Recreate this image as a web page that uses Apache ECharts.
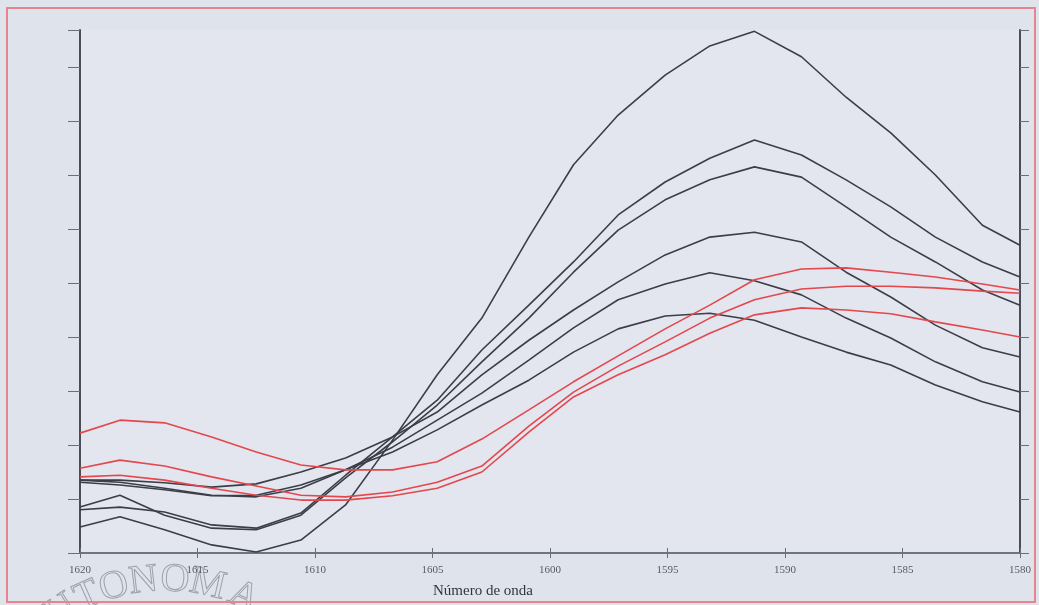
<!DOCTYPE html>
<html>
<head>
<meta charset="utf-8">
<script src="https://cdn.jsdelivr.net/npm/echarts@6/dist/echarts.min.js"></script>
<style>
  html, body { margin: 0; padding: 0; background: #dfe3ec; }
  #chart { width: 1039px; height: 605px; }
</style>
</head>
<body>
<div id="chart"></div>
<script>
// wavenumbers (cm-1), x axis runs 1620 -> 1580
var wavenumbers = [1620.0, 1618.3, 1616.4, 1614.4, 1612.5, 1610.6, 1608.7, 1606.7, 1604.8, 1602.9, 1600.9,
                   1599.0, 1597.1, 1595.1, 1593.2, 1591.3, 1589.3, 1587.4, 1585.5, 1583.6, 1581.6, 1580.0];
var tickLabels = ['1620', '1615', '1610', '1605', '1600', '1595', '1590', '1585', '1580'];

// black spectra
var black1 = [4.8, 6.7, 4.3, 1.5, 0.2, 2.4, 8.9, 20.9, 33.0, 43.5, 58.5, 71.9, 81.1, 88.5, 93.9, 96.6, 91.9, 84.4, 77.8, 70.0, 60.7, 57.0];
var black2 = [8.0, 8.5, 7.6, 5.2, 4.6, 7.4, 14.4, 21.5, 28.3, 37.6, 45.9, 53.9, 62.6, 68.7, 73.1, 76.5, 73.7, 69.1, 64.1, 58.5, 53.9, 51.1];
var black3 = [8.5, 10.7, 7.0, 4.6, 4.3, 7.0, 13.9, 20.6, 27.4, 35.4, 43.5, 52.0, 59.8, 65.4, 69.1, 71.5, 69.6, 64.1, 58.5, 53.9, 48.7, 45.9];
var black4 = [13.5, 13.5, 13.0, 12.2, 12.8, 15.0, 17.6, 21.5, 26.1, 33.0, 39.4, 45.0, 50.2, 55.2, 58.5, 59.4, 57.6, 52.0, 47.4, 42.2, 38.0, 36.3];
var black5 = [13.5, 13.1, 12.0, 10.7, 10.4, 12.0, 15.4, 19.6, 24.6, 29.6, 35.7, 41.7, 46.9, 49.8, 51.9, 50.4, 47.8, 43.5, 39.8, 35.4, 31.7, 29.8];
var black6 = [13.1, 12.6, 11.7, 10.6, 10.7, 12.6, 15.4, 18.7, 22.8, 27.4, 32.0, 37.2, 41.5, 43.9, 44.4, 43.1, 40.0, 37.2, 34.8, 31.1, 28.0, 26.1];

// red spectra
var red1 = [22.2, 24.6, 24.1, 21.5, 18.7, 16.3, 15.4, 15.4, 16.9, 21.1, 26.5, 31.7, 36.5, 41.5, 45.9, 50.6, 52.6, 52.8, 52.0, 51.1, 49.8, 48.7];
var red2 = [15.7, 17.2, 16.1, 14.1, 12.4, 10.7, 10.4, 11.3, 13.1, 16.1, 23.5, 29.8, 34.6, 39.1, 43.5, 46.9, 48.9, 49.4, 49.4, 49.1, 48.5, 48.1];
var red3 = [14.1, 14.4, 13.5, 12.0, 10.7, 9.8, 9.8, 10.6, 12.0, 15.0, 22.4, 28.9, 33.0, 36.7, 40.7, 44.1, 45.4, 45.0, 44.3, 42.8, 41.3, 40.0];

var blackSeries = [black1, black2, black3, black4, black5, black6];
var redSeries = [red1, red2, red3];

var serif = '"Liberation Serif", "DejaVu Serif", serif';

function pairs(ys) {
    return ys.map(function (y, i) { return [wavenumbers[i], y]; });
}

function lineSeries(ys, color) {
    return {
        type: 'line',
        xAxisIndex: 0,
        yAxisIndex: 0,
        data: pairs(ys),
        showSymbol: false,
        smooth: false,
        silent: true,
        lineStyle: { color: color, width: 1.6 }
    };
}

var series = [];
blackSeries.forEach(function (s) { series.push(lineSeries(s, '#3b3e47')); });
redSeries.forEach(function (s) { series.push(lineSeries(s, '#e4474c')); });

// faint seal lettering in the lower left corner
var seal = 'AUTONOMA'.split('');
var sealAngles = [-43, -33, -24, -15.5, -6.5, 3, 13, 24.5];
var sealGraphics = seal.map(function (ch, i) {
    var a = sealAngles[i] * Math.PI / 180;
    return {
        type: 'text',
        x: 165 + 190 * Math.sin(a),
        y: 770 - 190 * Math.cos(a),
        rotation: -a,
        silent: true,
        z: 0,
        style: {
            text: ch,
            font: '40px ' + serif,
            fill: 'rgba(0,0,0,0)',
            stroke: '#9da1aa',
            lineWidth: 1,
            align: 'center',
            verticalAlign: 'middle'
        }
    };
});

var chart = echarts.init(document.getElementById('chart'));
chart.setOption({
    backgroundColor: '#dfe3ec',
    animation: false,
    grid: {
        left: 80, right: 19, top: 30, bottom: 52,
        show: true, backgroundColor: '#e3e5ef', borderWidth: 0
    },
    xAxis: [{
        type: 'value',
        min: 1580, max: 1620, interval: 5,
        inverse: true,
        position: 'bottom',
        axisLine: { lineStyle: { color: '#6b6e76', width: 1.5 } },
        axisTick: { length: 5, lineStyle: { color: '#6b6e76' } },
        axisLabel: {
            margin: 12,
            color: '#5a5c63',
            fontFamily: serif,
            fontSize: 11,
            formatter: function (v) { return tickLabels[(1620 - v) / 5]; }
        },
        splitLine: { show: false },
        name: 'Número de onda',
        nameLocation: 'middle',
        nameGap: 31,
        nameTextStyle: { color: '#33353b', fontFamily: serif, fontSize: 15, padding: [0, 134, 0, 0] }
    }, {
        type: 'value',
        min: 1580, max: 1620, interval: 5,
        inverse: true,
        position: 'top',
        axisLine: { lineStyle: { color: '#6b6e76', width: 1.5 } },
        axisTick: { length: 5, lineStyle: { color: '#6b6e76' } },
        axisLabel: { show: false },
        splitLine: { show: false }
    }],
    yAxis: [{
        type: 'value',
        min: 0, max: 96.85, interval: 10,
        position: 'left',
        axisLine: { show: true, lineStyle: { color: '#4a4d55', width: 2 } },
        axisTick: { show: true, length: 12, lineStyle: { color: '#6b6e76' } },
        axisLabel: { show: false },
        splitLine: { show: false }
    }, {
        type: 'value',
        min: 0, max: 96.85, interval: 10,
        position: 'right',
        axisLine: { show: true, lineStyle: { color: '#4a4d55', width: 2 } },
        axisTick: { show: true, length: 9, lineStyle: { color: '#6b6e76' } },
        axisLabel: { show: false },
        splitLine: { show: false }
    }],
    graphic: [{
        type: 'rect',
        shape: { x: 7, y: 8, width: 1028, height: 594 },
        silent: true,
        z: 100,
        style: { fill: 'rgba(0,0,0,0)', stroke: '#e8848f', lineWidth: 2 }
    }].concat(sealGraphics),
    series: series
});
</script>
</body>
</html>
